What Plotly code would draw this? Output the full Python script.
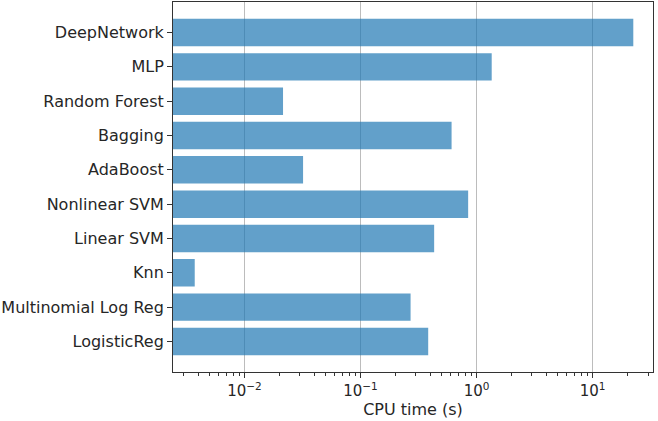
import plotly.graph_objects as go

# bottom -> top, as in the source figure
models = ["LogisticReg", "Multinomial Log Reg", "Knn", "Linear SVM", "Nonlinear SVM",
          "AdaBoost", "Bagging", "Random Forest", "MLP", "DeepNetwork"]
cpu_time = [0.383, 0.270, 0.00373, 0.431, 0.846, 0.032, 0.609, 0.0215, 1.35, 22.4]

x_ticks = [0.01, 0.1, 1, 10]
x_ticktext = ["10<sup>\u22122</sup>", "10<sup>\u22121</sup>", "10<sup>0</sup>", "10<sup>1</sup>"]
minor_ticks = [k * 10.0 ** e for e in range(-3, 2) for k in range(2, 10)]

bar_color = "rgba(31,119,180,0.7)"
text_color = "#262626"
font_family = "DejaVu Sans, sans-serif"

fig = go.Figure()
fig.add_trace(go.Bar(
    x=cpu_time, y=models, orientation="h",
    width=0.8,
    marker=dict(color=bar_color, line=dict(width=0)),
    showlegend=False,
))

fig.update_xaxes(
    type="log",
    range=[-2.6155, 1.52],
    tickmode="array", tickvals=x_ticks, ticktext=x_ticktext,
    showgrid=True, gridcolor="#bcbcbc", gridwidth=1,
    ticks="outside", ticklen=5, tickcolor="#333",
    minor=dict(tickmode="array", tickvals=minor_ticks, ticks="outside",
               ticklen=3, tickcolor="#333", showgrid=False),
    showline=True, linecolor="#333", linewidth=1, mirror=True,
    zeroline=False,
    automargin=False,
    tickfont=dict(size=15, color=text_color),
    title=dict(text="CPU time (s)", font=dict(size=16, color=text_color), standoff=2),
)

fig.update_yaxes(
    type="category",
    categoryorder="array", categoryarray=models,
    range=[-0.89, 9.89],
    showgrid=False,
    ticks="outside", ticklen=5, tickcolor="#333",
    showline=True, linecolor="#333", linewidth=1, mirror=True,
    automargin=False,
    tickfont=dict(size=16, color=text_color),
)

fig.update_layout(
    width=658, height=421,
    margin=dict(l=173, r=5, t=2, b=49),
    paper_bgcolor="white", plot_bgcolor="white",
    font=dict(family=font_family, color=text_color),
    bargap=0.2,
)

# drop the browser's default page margin so the figure sits at the window corner
fig.write_html("out.html", config={"displayModeBar": False},
               post_script="document.body.style.margin='0';")
